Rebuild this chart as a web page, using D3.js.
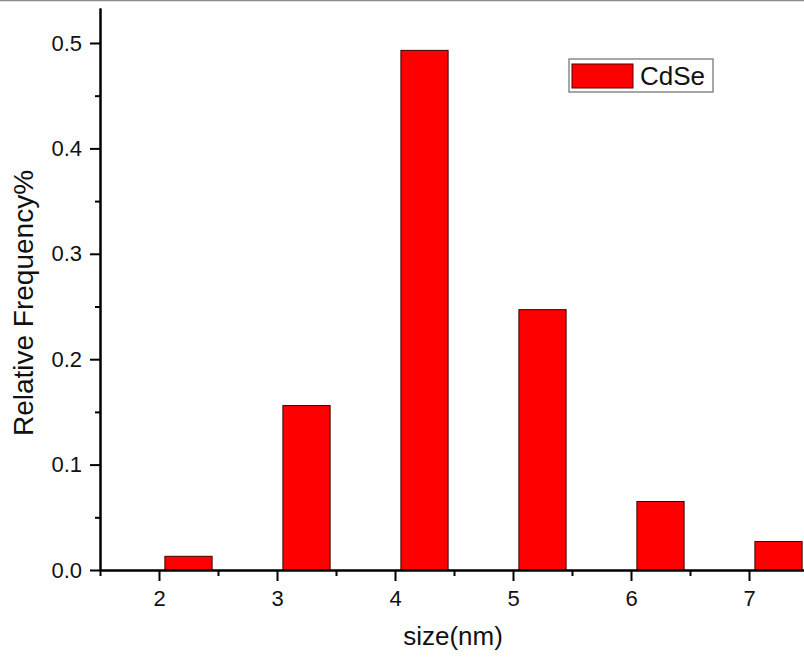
<!DOCTYPE html>
<html>
<head>
<meta charset="utf-8">
<script src="https://cdn.jsdelivr.net/npm/d3@7"></script>
<style>
  body { margin: 0; background: #fff; }
  svg { display: block; font-family: Arial, "Liberation Sans", sans-serif; }
</style>
</head>
<body>
<svg id="chart" width="804" height="657"></svg>
<script>
const sizes = [2, 3, 4, 5, 6, 7];
const freq = [0.013, 0.156, 0.493, 0.247, 0.065, 0.027];
const yTicks = [0, 0.1, 0.2, 0.3, 0.4, 0.5];
const yMinor = [0.05, 0.15, 0.25, 0.35, 0.45];
const xMinor = [1.5, 2.5, 3.5, 4.5, 5.5, 6.5, 7.5];
const seriesName = 'CdSe';

const svg = d3.select('#chart');

// scanned-edge line at the very top
svg.append('line')
  .attr('x1', 0).attr('x2', 804)
  .attr('y1', 0.5).attr('y2', 0.5)
  .attr('stroke', '#8a8a8a')
  .attr('stroke-width', 1.5);

const x = d3.scaleLinear().domain([1.5, 7.5]).range([100, 808]);
const y = d3.scaleLinear().domain([0, 0.5332]).range([570, 8]);

// bars
svg.append('g')
  .selectAll('rect')
  .data(sizes)
  .enter()
  .append('rect')
  .attr('x', (d) => x(d + 0.05))
  .attr('y', (d, i) => y(freq[i]))
  .attr('width', (d) => x(d + 0.45) - x(d + 0.05))
  .attr('height', (d, i) => y(0) - y(freq[i]))
  .attr('fill', '#ff0000')
  .attr('stroke', '#3a0000')
  .attr('stroke-width', 1);

// y axis
svg.append('g')
  .attr('transform', `translate(${x(1.5)},0)`)
  .call(d3.axisLeft(y).tickValues(yTicks).tickFormat(d3.format('.1f')).tickSize(10).tickPadding(8).tickSizeOuter(0));

svg.append('g')
  .attr('transform', `translate(${x(1.5)},0)`)
  .call(d3.axisLeft(y).tickValues(yMinor).tickFormat('').tickSize(5).tickSizeOuter(0));

// x axis
svg.append('g')
  .attr('transform', `translate(0,${y(0)})`)
  .call(d3.axisBottom(x).tickValues(sizes).tickFormat(d3.format('d')).tickSize(11).tickPadding(9).tickSizeOuter(0));

svg.append('g')
  .attr('transform', `translate(0,${y(0)})`)
  .call(d3.axisBottom(x).tickValues(xMinor).tickFormat('').tickSize(6).tickSizeOuter(0));

svg.selectAll('.domain').attr('stroke', '#000').attr('stroke-width', 2);
svg.selectAll('.tick line').attr('stroke', '#000').attr('stroke-width', 2);
svg.selectAll('.tick text')
  .attr('font-size', 22)
  .attr('fill', '#111')
  .attr('font-family', 'Arial, "Liberation Sans", sans-serif');

// axis titles
svg.append('text')
  .attr('transform', `translate(33,303) rotate(-90)`)
  .attr('text-anchor', 'middle')
  .attr('font-size', 28)
  .attr('fill', '#111')
  .text('Relative Frequency%');

svg.append('text')
  .attr('x', 453)
  .attr('y', 645)
  .attr('text-anchor', 'middle')
  .attr('font-size', 26)
  .attr('fill', '#111')
  .text('size(nm)');

// legend
const legend = svg.append('g').attr('transform', 'translate(569,59)');
legend.append('rect')
  .attr('width', 144).attr('height', 33)
  .attr('fill', '#fff')
  .attr('stroke', '#8a8a8a')
  .attr('stroke-width', 1.5);
legend.append('rect')
  .attr('x', 3).attr('y', 5)
  .attr('width', 61).attr('height', 24)
  .attr('fill', '#ff0000')
  .attr('stroke', '#5a0000')
  .attr('stroke-width', 1);
legend.append('text')
  .attr('x', 71).attr('y', 26)
  .attr('font-size', 26)
  .attr('fill', '#111')
  .text(seriesName);
</script>
</body>
</html>
